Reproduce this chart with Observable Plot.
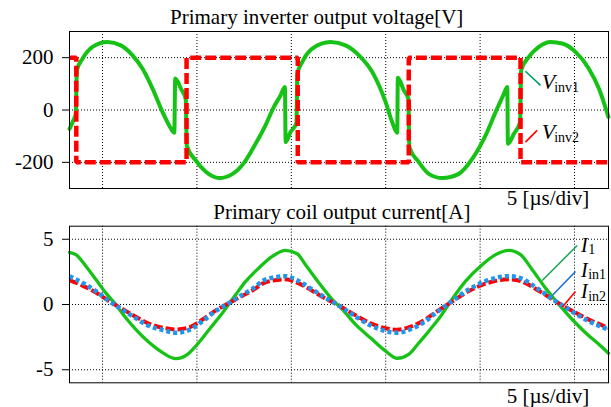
<!DOCTYPE html>
<html><head><meta charset="utf-8">
<script src="https://cdn.jsdelivr.net/npm/d3@7"></script>
<script src="https://cdn.jsdelivr.net/npm/@observablehq/plot@0.6"></script>
<style>
body{margin:0;background:#fff;}
#wrap{position:relative;width:611px;height:407px;overflow:hidden;background:#fff;}
#wrap > div{position:absolute;left:0;}
#wrap svg{display:block;}
</style></head><body><div id="wrap"></div>
<script>
// ---- data (time in µs, grid every 5 µs) ----
const timeDomain = [-1.75, 26.8];
const timeGrid = [0, 5, 10, 15, 20, 25];

const voltTicks = [-200, 0, 200];
const currTicks = [-5, 0, 5];

// Vinv1 [t, V]
const vinv1 = [[-1.75,-72],[-1.55,-40],[-1.42,-15],[-1.36,152],[-1.06,196],[-0.53,241],[0.26,260],[0.97,247],[1.59,209],[2.12,158],[2.65,82],[3.18,-8],[3.53,-59],[3.80,-87],[3.85,120],[4.15,82],[4.41,40],[4.46,-136],[4.94,-193],[5.47,-236],[6.18,-260],[6.89,-244],[7.51,-200],[7.94,-150],[8.63,-59],[9.07,11],[9.43,56],[9.66,88],[9.70,-123],[9.96,-84],[10.27,-50],[10.32,139],[10.58,184],[11.11,235],[12.08,260],[12.87,247],[13.58,209],[14.28,146],[14.99,31],[15.34,-46],[15.61,-87],[15.64,123],[15.96,75],[16.20,43],[16.25,-142],[16.75,-199],[17.28,-244],[17.99,-260],[18.87,-244],[19.58,-187],[20.29,-97],[20.82,-8],[21.26,62],[21.44,88],[21.47,-129],[21.79,-91],[22.12,-46],[22.17,152],[22.58,203],[23.11,241],[23.73,260],[24.35,254],[25.05,222],[25.76,158],[26.29,82],[26.8,-27]];

// Vinv2 square wave: switching times and levels (step-after)
const vinv2Times  = [-1.75, -1.39, 4.45, 10.34, 16.22, 22.14, 26.8];
const vinv2Levels = [200, -200, 200, -200, 200, -200, -200];

// I1 [t, A]
const i1 = [[-1.75,4.0],[-1.41,3.82],[-0.88,2.93],[-0.35,1.91],[0.17,0.89],[0.70,0],[1.23,-1.02],[1.76,-1.91],[2.47,-2.92],[3.18,-3.69],[3.88,-4.15],[4.50,-3.82],[4.94,-3.18],[5.65,-1.91],[6.36,-0.63],[7.06,0.76],[7.57,1.75],[8.28,2.8],[8.99,3.69],[9.69,4.15],[10.31,3.89],[10.75,3.05],[11.46,1.66],[12.17,0.38],[12.70,-0.38],[13.40,-1.53],[14.28,-2.67],[14.99,-3.56],[15.61,-4.12],[16.22,-3.82],[16.75,-2.95],[17.11,-2.35],[17.46,-1.72],[17.81,-1.1],[18.52,0.41],[19.23,1.79],[20.11,3.05],[20.82,3.82],[21.52,4.15],[22.14,3.82],[22.76,2.67],[23.46,1.27],[24.17,0],[24.88,-1.15],[25.58,-2.16],[26.29,-3.05],[26.8,-3.74]];

// Iin1 [t, A]
const iin1 = [[-1.75,2.17],[-1.06,1.66],[-0.35,1.02],[0.35,0.26],[0.88,-0.25],[1.59,-0.89],[2.47,-1.65],[3.18,-1.95],[3.88,-2.16],[4.59,-1.95],[5.30,-1.27],[6.00,-0.5],[6.71,0.13],[7.42,0.76],[7.94,1.2],[8.63,1.91],[9.69,2.17],[10.40,1.79],[11.11,1.15],[11.81,0.51],[12.52,-0.08],[13.23,-0.76],[14.10,-1.53],[14.99,-2.03],[15.61,-2.16],[16.40,-1.85],[17.11,-1.27],[17.64,-0.66],[18.52,0.26],[19.40,1.15],[20.29,1.79],[21.52,2.17],[22.23,1.96],[23.11,1.15],[23.99,0.26],[24.70,-0.38],[25.58,-1.15],[26.8,-1.93]];

// Iin2 [t, A]
const iin2 = [[-1.75,1.86],[-1.06,1.45],[-0.35,0.92],[0.35,0.25],[0.88,-0.2],[1.59,-0.8],[2.47,-1.48],[3.18,-1.78],[3.88,-1.91],[4.59,-1.75],[5.30,-1.15],[6.00,-0.45],[6.71,0.12],[7.42,0.68],[7.94,1.08],[8.63,1.7],[9.69,1.93],[10.40,1.62],[11.11,1.05],[11.81,0.45],[12.52,-0.07],[13.23,-0.68],[14.10,-1.38],[14.99,-1.82],[15.61,-1.93],[16.40,-1.66],[17.11,-1.14],[17.64,-0.6],[18.52,0.23],[19.40,1.03],[20.29,1.6],[21.52,1.93],[22.23,1.76],[23.11,1.05],[23.99,0.25],[24.70,-0.34],[25.58,-1.03],[26.8,-1.8]];

// annotations: label, subscript, text anchor (t, value), leader line (t1,v1)->(t2,v2)
const voltLabels = [
  {main: "V", sub: "inv1", t: 23.29, v: 77,   t1: 22.40, v1: 148,  t2: 23.2,  v2: 94,  color: "#00a060"},
  {main: "V", sub: "inv2", t: 23.29, v: -114, t1: 22.40, v1: -123, t2: 23.02, v2: -78, color: "#ff0000"}
];
const currLabels = [
  {main: "I", sub: "1",   t: 25.37, v: 4.01, t1: 23.29, v1: 1.84,  t2: 25.14, v2: 4.52, color: "#22a65a"},
  {main: "I", sub: "in1", t: 25.37, v: 2.09, t1: 23.82, v1: 0.69,  t2: 25.05, v2: 2.53, color: "#1a6fd0"},
  {main: "I", sub: "in2", t: 25.37, v: 0.44, t1: 24.35, v1: -0.21, t2: 25.05, v2: 1.0,  color: "#ff0000"}
];

const titles = ["Primary inverter output voltage[V]", "Primary coil output current[A]"];
const divLabel = "5 [µs/div]";

// ---- styles ----
const FONT = '"Liberation Serif", "Times New Roman", serif';
const GREEN = "#17c217", RED = "#ff0000", BLUE = "#1e95ef";

const vinv2 = vinv2Times.map((t, i) => ({t, v: vinv2Levels[i]}));

function panel({height, marginTop, marginBottom, yDomain, yTicks, lines, labels, mainSize}) {
  const chart = Plot.plot({
    width: 611, height, marginLeft: 69, marginRight: 3, marginTop, marginBottom,
    style: {fontFamily: FONT, fontSize: "21px", color: "#000", background: "transparent", overflow: "visible"},
    x: {domain: timeDomain, axis: null},
    y: {domain: yDomain, ticks: yTicks, tickFormat: d => String(d), tickSize: 7, tickPadding: 9, label: null},
    marks: [
      Plot.ruleY(yTicks, {stroke: "#000", strokeWidth: 1, strokeDasharray: "1,2"}),
      Plot.ruleX(timeGrid, {stroke: "#000", strokeWidth: 1, strokeDasharray: "1,2"}),
      ...lines,
      ...labels.map(d => Plot.link([d], {x1: "t1", y1: "v1", x2: "t2", y2: "v2", stroke: d.color, strokeWidth: 1.6})),
      Plot.frame({stroke: "#000", strokeWidth: 1})
    ]
  });
  const sx = chart.scale("x"), sy = chart.scale("y");
  const svg = d3.select(chart);
  for (const d of labels) {
    const txt = svg.append("text")
      .attr("x", sx.apply(d.t)).attr("y", sy.apply(d.v))
      .attr("text-anchor", "start")
      .attr("font-family", FONT).attr("fill", "#000");
    txt.append("tspan").attr("font-style", "italic").attr("font-size", mainSize).text(d.main);
    txt.append("tspan").attr("font-size", 14).attr("dy", 2.5).attr("dx", d.main === "V" ? -1 : 0.5).text(d.sub);
  }
  return chart;
}

const topChart = panel({
  height: 200, marginTop: 31, marginBottom: 12,
  yDomain: [-300, 300], yTicks: voltTicks, mainSize: 22,
  lines: [
    Plot.line(vinv1, {x: d => d[0], y: d => d[1], stroke: GREEN, strokeWidth: 4, curve: "monotone-x"}),
    Plot.line(vinv2, {x: "t", y: "v", stroke: RED, strokeWidth: 4.5, strokeDasharray: "11,4", strokeLinecap: "butt", strokeLinejoin: "miter", curve: "step-after"})
  ],
  labels: voltLabels
});

const botChart = panel({
  height: 207, marginTop: 25.7, marginBottom: 24.7,
  yDomain: [-6, 6], yTicks: currTicks, mainSize: 20,
  lines: [
    Plot.line(i1, {x: d => d[0], y: d => d[1], stroke: GREEN, strokeWidth: 3.3, curve: "monotone-x"}),
    Plot.line(iin2, {x: d => d[0], y: d => d[1], stroke: RED, strokeWidth: 4, strokeDasharray: "9,3", strokeLinecap: "butt", curve: "monotone-x"}),
    Plot.line(iin1, {x: d => d[0], y: d => d[1], stroke: BLUE, strokeWidth: 4.5, strokeDasharray: "4,3", strokeLinecap: "butt", curve: "monotone-x"})
  ],
  labels: currLabels
});

const wrap = document.getElementById("wrap");
const d1 = document.createElement("div"); d1.style.top = "0px"; d1.appendChild(topChart); wrap.appendChild(d1);
const d2 = document.createElement("div"); d2.style.top = "200px"; d2.appendChild(botChart); wrap.appendChild(d2);

// overlay texts (titles and time-base labels)
const ov = d3.select(wrap).append("div").style("top", "0px")
  .append("svg").attr("width", 611).attr("height", 407)
  .style("pointer-events", "none");
const textSpecs = [
  {s: titles[0], x: 170, y: 24},
  {s: titles[1], x: 213.3, y: 219},
  {s: divLabel, x: 506.7, y: 205},
  {s: divLabel, x: 506.7, y: 403}
];
for (const d of textSpecs) {
  ov.append("text").attr("x", d.x).attr("y", d.y).attr("text-anchor", "start")
    .attr("font-family", FONT).attr("font-size", 21).attr("fill", "#000").text(d.s);
}
</script></body></html>
